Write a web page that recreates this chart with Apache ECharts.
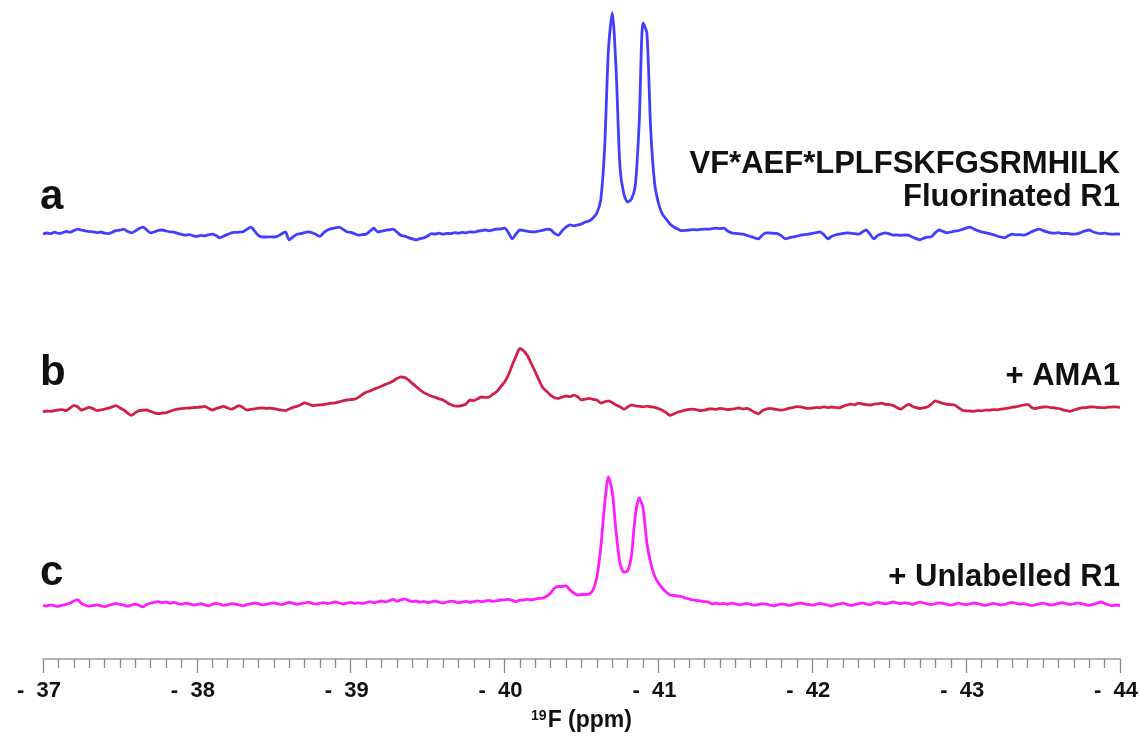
<!DOCTYPE html>
<html>
<head>
<meta charset="utf-8">
<script src="https://cdn.jsdelivr.net/npm/echarts@6/dist/echarts.min.js"></script>
<style>
  html, body { margin: 0; padding: 0; background: #fff; }
  #chart { width: 1140px; height: 739px; }
</style>
</head>
<body>
<div id="chart"></div>
<script>
// 19F spectra, sampled every 0.025 ppm from -37 to -44 (281 points)
const ppmStart = -37;
const ppmStep = 0.025;

// a: VF*AEF*LPLFSKFGSRMHILK, fluorinated R1
const specA = [
  -0.5, 0, -0.3, 0.4, -0.2, 0.1, 0.8, 0.4, 1.2, 1.9, 1.5, 1.0, 0.7, 0.6, 0.2, 0.5, -0.1, -0.3, 0.4, 1.2,
  1.4, 1.9, 0.8, 0.1, 1.0, 2.2, 2.9, 1.5, 0.1, 0.6, 1.3, 1.5, 1.0, 0.6, 0.4, -0.2, -0.7, -1.1, -0.8, -1.4,
  -1.7, -1.2, -1.4, -0.9, -0.6, -1.3, -2.4, -1.5, -0.7, 0.1, 0.3, 0.4, 0.6, 1.8, 2.9, 1.0, -1.2, -2.0, -2.0, -1.9,
  -2.0, -1.6, -0.5, 0.6, -3.4, -2.0, -0.6, -0.3, 0.2, 0.6, 0.1, -0.8, -1.7, 0.2, 1.5, 2.2, 2.6, 2.9, 1.8, 0.6,
  0.3, -0.4, -1.1, -0.8, -0.6, 0.9, 2.4, 0.6, 0.9, 1.3, 1.6, 1.9, 0.5, -1.1, -1.6, -2.3, -2.9, -3.4, -2.8, -2.4,
  -1.5, -0.3, -0.5, -0.1, -0.6, -0.2, -0.3, 0.2, -0.1, 0.3, 0.1, 0.6, 0.4, 0.9, 1.2, 1.5, 1.1, 1.6, 1.9, 2.1,
  2.4, 0.2, -2.9, -0.5, 1.5, 1.2, 0.8, 0.6, 0.6, 1.0, 1.4, 1.9, 1.6, -0.2, -1.1, 1.2, 3.0, 4.1, 3.6, 4.0,
  4.5, 5.5, 6, 7.5, 10, 16.5, 42, 91.5, 110, 81.5, 33, 19.5, 15.5, 17, 24, 55, 105, 100, 51.5, 25,
  15, 9.5, 7, 4.5, 3, 2, 1.2, 1.3, 1.5, 1.7, 1.6, 1.8, 1.9, 1.9, 2.2, 2.4, 2.2, 2.4, 1.0, 0.1,
  -0.2, -0.4, -0.6, -1.2, -1.8, -2.4, -2.9, -1.0, 0.1, 0.0, -0.2, -0.3, -1.5, -2.9, -2.4, -2.0, -1.6, -1.1, -0.8, -0.6,
  -0.2, 0.2, 0.6, -0.8, -2.9, -1.8, -1.0, -0.6, -0.2, 0.1, -0.1, -0.3, -0.6, 0.5, 1.5, -0.6, -2.9, -1.2, -0.4, 0.1,
  -0.4, -1.1, -0.9, -1.2, -1.0, -1.1, -2.0, -2.8, -3.4, -2.6, -2.1, -1.8, 0.2, 1.5, 0.8, 0.1, 0.5, 0.9, 1.2, 1.8,
  2.4, 2.9, 2.0, 1.2, 0.6, 0.2, -0.3, -0.8, -1.5, -2.0, -2.4, -1.3, -0.6, -0.9, -0.8, -1.1, -0.4, 0.6, 1.4, 1.9,
  1.2, 0.6, 0.1, -0.1, 0.2, -0.3, -0.2, -0.5, -0.6, -0.3, 0.4, 1.1, 1.5, 0.6, 0.0, -0.3, -0.1, -0.4, -0.6, -0.5, -0.6
];

// b: + AMA1
const specB = [
  -2.4, -2.0, -2.2, -1.8, -1.5, -1.3, -1.8, -0.6, 0.7, 0.1, -1.5, -0.9, -0.2, -0.8, -1.8, -1.4, -1.1, -0.6, 0.1, 0.7,
  -0.4, -1.5, -3.0, -4.2, -2.8, -1.8, -1.6, -1.5, -2.2, -2.9, -3.3, -3.0, -2.9, -2.2, -1.5, -1.1, -0.8, -0.6, -0.5, -0.3,
  -0.2, 0.0, 0.3, -0.6, -1.5, -0.8, -0.2, 0.3, -0.5, -1.1, -0.2, 0.7, -0.3, -1.5, -1.2, -0.9, -0.6, -0.5, -0.7, -0.6,
  -0.8, -1.2, -1.6, -1.8, -1.0, -0.2, 0.3, 1.1, 2.1, 1.5, 0.7, 0.9, 1.1, 1.2, 1.6, 1.9, 2.1, 2.6, 3.1, 3.5,
  3.7, 3.9, 4.8, 6.2, 7.4, 8.0, 8.9, 9.6, 10.4, 11.3, 12.0, 13.0, 14.2, 15.0, 14.8, 13.6, 11.8, 10.2, 8.6, 7.2,
  6.3, 5.4, 4.8, 4.1, 3.5, 2.3, 1.2, 0.5, 0.4, 0.8, 1.5, 3.5, 3.2, 4.1, 5.0, 4.8, 5.0, 6.4, 7.7, 10.2,
  12.5, 16.0, 21.0, 25.5, 29.3, 28.0, 25.5, 21.5, 17.5, 13.2, 9.5, 7.7, 5.8, 4.6, 4.3, 5.0, 5.5, 5.2, 5.9, 5.1,
  3.5, 3.9, 4.3, 3.8, 3.5, 2.0, 2.6, 3.1, 2.2, 1.0, 0.1, -1.1, 0.0, 1.0, 0.6, 0.3, 0.1, 0.4, 0.1, -0.2,
  -0.8, -1.6, -2.8, -4.2, -3.5, -2.6, -2.1, -1.6, -1.2, -1.1, -1.4, -1.8, -1.6, -1.0, -0.9, -1.2, -0.7, -0.9, -1.3, -1.1,
  -0.8, -0.5, -1.0, -0.7, -1.5, -2.6, -3.4, -1.9, -1.1, -0.7, -1.0, -1.3, -1.6, -1.2, -0.6, -0.3, 0.2, 0.1, -0.4, -0.7,
  -0.5, -0.2, -0.4, 0.1, -0.3, 0.0, -0.2, -0.4, 0.3, 1.0, 1.4, 1.1, 1.9, 1.5, 1.2, 1.0, 1.4, 1.6, 1.9, 1.3,
  1.2, 0.8, -0.2, -1.1, 0.2, 1.35, 0.4, -0.3, -0.75, -0.4, 0.1, 1.5, 3.1, 2.4, 1.8, 1.35, 1.2, 1.0, -0.3, -1.6,
  -1.9, -2.0, -2.15, -1.8, -1.9, -1.6, -1.6, -1.3, -1.4, -1.1, -0.8, -0.6, -0.1, 0.1, 0.6, 1.0, 1.35, -0.2, -0.75, -0.3,
  0.0, 0.1, -0.3, -0.5, -0.75, -1.3, -1.8, -2.15, -1.5, -0.9, -0.4, -0.3, 0.0, 0.1, -0.2, -0.3, -0.4, -0.1, 0.0, 0.1, -0.2
];

// c: + Unlabelled R1
const specC = [
  -0.8, -1.0, -0.4, -0.9, -1.2, -0.6, -0.2, 0.4, 1.5, 2.2, 0.3, -0.6, -1.1, -0.8, -0.4, -0.9, -1.3, -0.7, -0.2, 0.3,
  -0.2, -0.6, -1.2, -0.5, -0.1, -0.8, -1.4, -0.3, 0.5, 0.9, 1.2, 0.6, 1.0, 0.4, 0.8, 0.3, -0.2, 0.4, 0.1, -0.5,
  -0.3, 0.2, -0.4, -0.9, -0.2, 0.3, -0.1, -0.6, -0.4, 0.2, 0.0, -0.5, -0.9, -0.3, 0.1, 0.5, 0.2, -0.4, -0.2, 0.3,
  0.6, 0.1, -0.3, 0.2, 0.8, 0.4, -0.2, 0.1, 0.5, 0.9, 0.3, -0.1, 0.4, 0.7, 0.2, 0.6, 1.1, 0.5, 0.0, 0.4,
  0.8, 0.3, 0.6, 0.2, 0.7, 1.2, 0.6, 1.0, 1.5, 1.1, 1.6, 2.3, 1.4, 2.0, 2.6, 1.8, 1.2, 1.5, 0.9, 1.3,
  0.7, 1.1, 1.5, 0.9, 0.5, 1.0, 1.4, 1.2, 0.6, 1.0, 1.3, 0.8, 1.2, 1.6, 1.1, 1.5, 1.8, 1.3, 1.6, 2.0,
  2.1, 2.3, 1.8, 1.2, 1.9, 2.0, 2.3, 2.1, 2.5, 2.8, 3.0, 4.0, 5.5, 8.0, 8.75, 8.75, 9.0, 7.0, 5.5, 4.5,
  4.75, 4.75, 5.0, 7.0, 13.5, 28, 49.5, 63.5, 56, 36, 20.5, 16, 16.5, 24.5, 44.5, 53, 48, 30.5, 20.5, 14,
  10.5, 8, 6, 4.5, 4.25, 4, 3.75, 3, 2.5, 2, 1.75, 1.5, 1.2, 1.0, 0.0, 0.5, 0.0, 0.3, -0.2, 0.4,
  0.1, -0.4, -0.1, 0.3, -0.2, -0.6, -0.3, 0.2, -0.1, -0.5, -0.9, -0.4, 0.1, -0.2, -0.7, -0.3, 0.2, 0.5, 0.1, -0.3,
  -0.6, -0.2, 0.3, -0.1, -0.5, -1.0, -0.4, 0.0, 0.4, -0.2, -0.7, -0.3, 0.2, 0.6, 0.1, -0.4, 0.3, 0.8, 0.4, 0.0,
  0.5, 1.0, 0.6, 0.2, 0.7, 0.3, -0.2, 0.4, 0.9, 0.5, 0.1, -0.3, 0.2, 0.6, 0.3, -0.2, -0.6, -0.1, 0.4, 0.0,
  -0.4, 0.1, 0.5, 0.2, -0.3, -0.7, -0.2, 0.3, 0.0, -0.5, -0.2, 0.4, 0.8, 0.3, -0.1, 0.2, -0.3, -0.8, -0.4, 0.1,
  0.4, -0.1, -0.5, -0.2, 0.3, 0.7, 0.2, -0.3, 0.1, 0.6, 0.2, -0.3, -0.7, -0.2, 0.4, 1.0, 0.3, -0.4, -0.9, -0.5, -0.8
];

const traceColors = ['#3f3ffd', '#d11f4b', '#ff1cff'];
const traceLetters = ['a', 'b', 'c'];

const chart = echarts.init(document.getElementById('chart'));
const FONT = '"Liberation Sans", Arial, Helvetica, sans-serif';

function toPoints(values) {
    return values.map((v, k) => [+(ppmStart - ppmStep * k).toFixed(3), v]);
}

// each trace sits in its own band; 1 intensity unit = 2 px
const bands = [
    { top: 3, height: 250 },
    { top: 177, height: 250 },
    { top: 374, height: 250 }
];

const xBase = {
    type: 'value',
    min: -44,
    max: -37,
    interval: 1,
    inverse: true
};

const option = {
    animation: false,
    backgroundColor: '#fff',
    grid: bands.map(b => ({ left: 43, right: 20, top: b.top, height: b.height, outerBoundsMode: 'none', containLabel: false })),
    xAxis: [
        Object.assign({ gridIndex: 0, show: false }, xBase),
        Object.assign({ gridIndex: 1, show: false }, xBase),
        Object.assign({
            gridIndex: 2,
            offset: 35,
            axisLine: { onZero: false, lineStyle: { color: '#9a9a9a', width: 1.5 } },
            axisTick: { length: 14, lineStyle: { color: '#8a8a8a', width: 1.3 } },
            minorTick: { show: true, splitNumber: 10, length: 9, lineStyle: { color: '#8a8a8a', width: 1.3 } },
            splitLine: { show: false },
            axisLabel: {
                margin: 21,
                color: '#111',
                fontFamily: FONT,
                fontWeight: 'bold',
                fontSize: 22,
                padding: [0, 8, 0, 0],
                formatter: v => '-  ' + Math.abs(v)
            },
            name: '{sup|19}{b|F (ppm)}',
            nameLocation: 'middle',
            nameGap: 50,
            nameTextStyle: {
                rich: {
                    sup: { fontFamily: FONT, fontWeight: 'bold', fontSize: 14, color: '#111', verticalAlign: 'top', lineHeight: 24, padding: [0, 1, 10, 0] },
                    b: { fontFamily: FONT, fontWeight: 'bold', fontSize: 23, color: '#111', lineHeight: 24 }
                }
            }
        }, xBase)
    ],
    yAxis: [0, 1, 2].map(i => ({ type: 'value', gridIndex: i, min: -10, max: 115, show: false })),
    series: [specA, specB, specC].map((s, i) => ({
        type: 'line',
        xAxisIndex: i,
        yAxisIndex: i,
        data: toPoints(s),
        showSymbol: false,
        symbol: 'none',
        smooth: 0.25,
        lineStyle: { color: traceColors[i], width: 2.8 },
        z: 2
    })),
    graphic: [
        { type: 'text', x: 40, y: 197, style: { text: traceLetters[0], font: 'bold 42px ' + FONT, fill: '#111', textVerticalAlign: 'middle' } },
        { type: 'text', x: 40, y: 373, style: { text: traceLetters[1], font: 'bold 42px ' + FONT, fill: '#111', textVerticalAlign: 'middle' } },
        { type: 'text', x: 40, y: 573, style: { text: traceLetters[2], font: 'bold 42px ' + FONT, fill: '#111', textVerticalAlign: 'middle' } },
        { type: 'text', x: 1120, y: 164, style: { text: 'VF*AEF*LPLFSKFGSRMHILK', font: 'bold 31px ' + FONT, fill: '#111', textAlign: 'right', textVerticalAlign: 'middle' } },
        { type: 'text', x: 1120, y: 197, style: { text: 'Fluorinated R1', font: 'bold 31px ' + FONT, fill: '#111', textAlign: 'right', textVerticalAlign: 'middle' } },
        { type: 'text', x: 1120, y: 376, style: { text: '+ AMA1', font: 'bold 31px ' + FONT, fill: '#111', textAlign: 'right', textVerticalAlign: 'middle' } },
        { type: 'text', x: 1120, y: 577, style: { text: '+ Unlabelled R1', font: 'bold 31px ' + FONT, fill: '#111', textAlign: 'right', textVerticalAlign: 'middle' } }
    ]
};

chart.setOption(option);
</script>
</body>
</html>
